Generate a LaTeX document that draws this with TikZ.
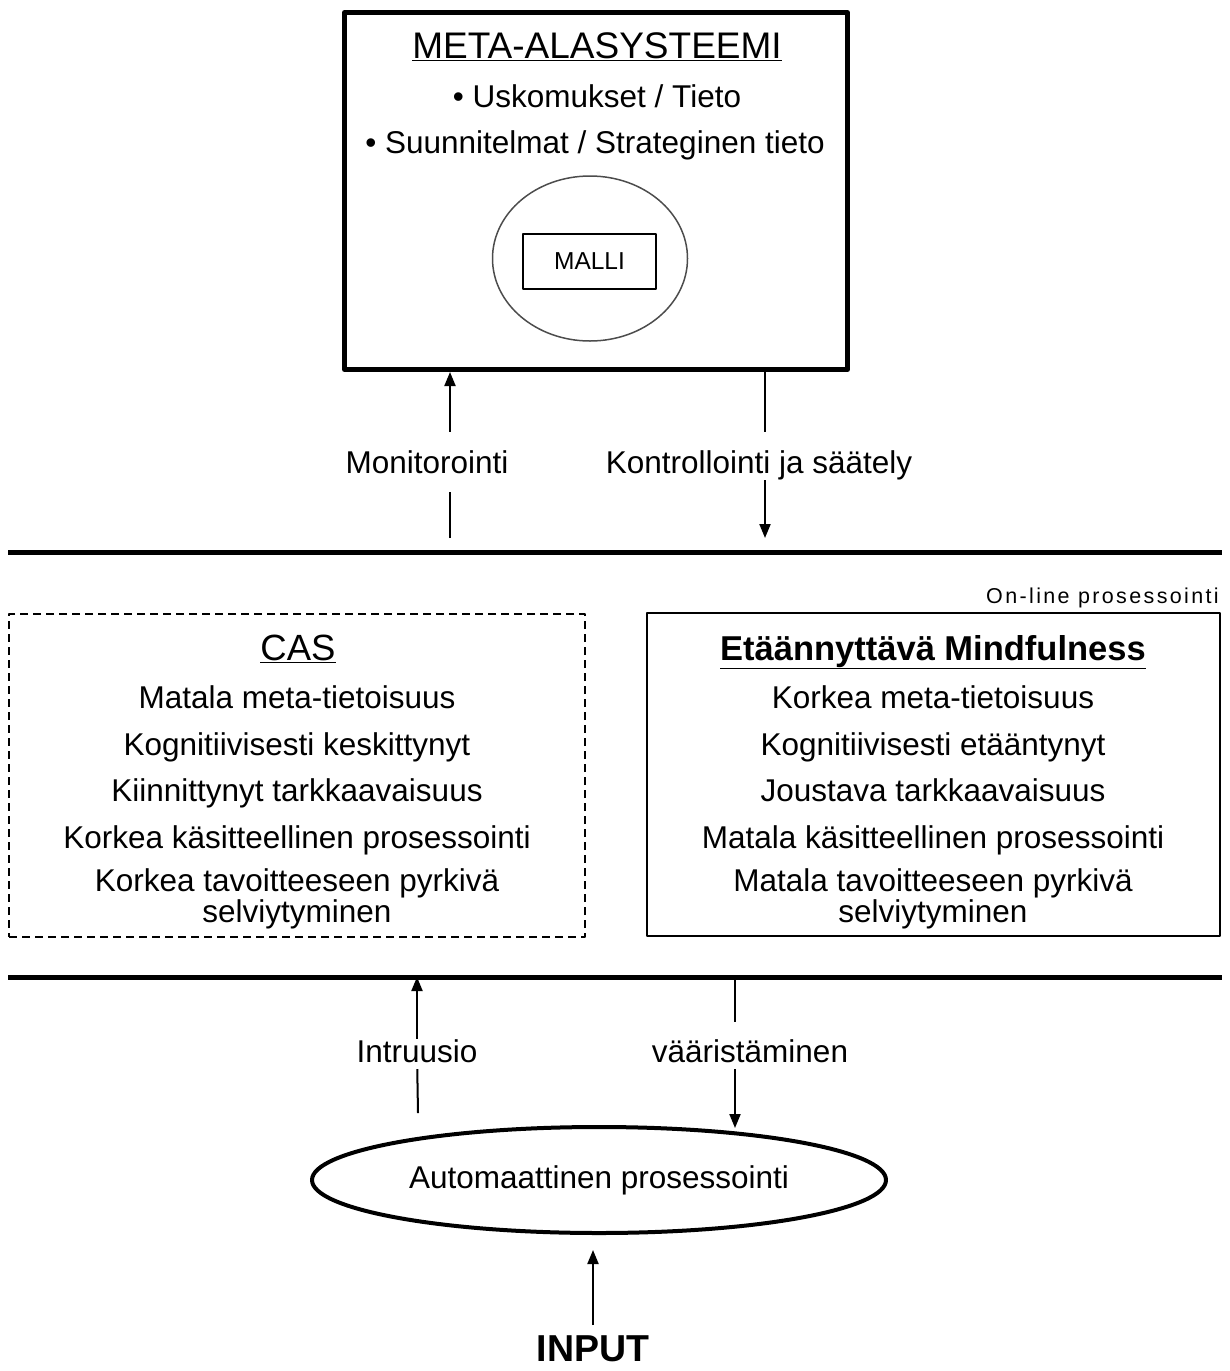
\documentclass[tikz,border=0pt]{standalone}
\usepackage{fontspec}
\setmainfont{Liberation Sans}
\usetikzlibrary{shapes.geometric, arrows.meta}
\newcommand{\txtsize}{\fontsize{31.5}{36}\selectfont}
\newcommand{\hdsize}{\fontsize{37}{42}\selectfont}
\newcommand{\pienisize}{\fontsize{21.5}{24}\selectfont\addfontfeatures{LetterSpace=11}}
\tikzset{
	txt/.style={anchor=base, inner sep=0pt},
	lbl/.style={anchor=base, inner sep=0pt, text height=23pt, text depth=7pt},
	arr/.style={line width=2pt},
	sep/.style={line width=5pt},
	laatikko/.style={draw, line width=2pt, minimum width=#1, minimum height=323pt},
}
\begin{document}
\begin{tikzpicture}[x=1pt, y=-1pt, font=\txtsize, line join=round, >={Stealth[length=14pt, width=11pt, inset=0pt]}]
	\useasboundingbox (0,0) rectangle (1230,1371);
	% meta-alasysteemi
	\node[draw, line width=5pt, minimum width=503pt, minimum height=357pt] (meta) at (596,191) {};
	\node[txt, font=\hdsize] (metahd) at (597,58) {\underline{META-ALASYSTEEMI}};
	\node[txt] (usk) at (597,107) {• Uskomukset / Tieto};
	\node[txt] (suun) at (595,153) {• Suunnitelmat / Strateginen tieto};
	\node[draw, ellipse, line width=1.5pt, draw=black!70, minimum width=195pt, minimum height=165pt] (kehys) at (590,258.5) {};
	\node[draw, line width=2pt, minimum width=133pt, minimum height=55pt, font=\fontsize{24.5}{28}\selectfont] (malli) at (589.5,261.5) {MALLI};
	% viivat
	\coordinate (v1w) at (8,552); \coordinate (v1e) at (1222,552);
	\coordinate (v2w) at (8,977); \coordinate (v2e) at (1222,977);
	\draw[sep] (v1w) -- (v1e);
	\draw[sep] (v2w) -- (v2e);
	% monitorointi / kontrollointi
	\node[lbl] (mon) at (427,473) {Monitorointi};
	\node[lbl] (kon) at (759,473) {Kontrollointi ja säätely};
	\coordinate (monA) at (450,538);
	\coordinate (konA) at (765,538);
	\draw[arr, shorten >=12pt] (monA) -- (monA |- mon.south);
	\draw[arr, ->, shorten <=18pt] (monA |- mon.north) -- (monA |- meta.south);
	\draw[arr, shorten >=18pt] (konA |- meta.south) -- (konA |- kon.north);
	\draw[arr, ->] (konA |- kon.south) -- (konA);
	% on-line prosessointi
	\node[txt, anchor=base east, font=\pienisize] (online) at (1219,603) {On-line prosessointi};
	\node[laatikko=576pt, dash pattern=on 8pt off 5pt] (cas) at (297,775.5) {};
	\node[laatikko=573pt] (mind) at (933.5,774.5) {};
	\node[txt, font=\fontsize{36.5}{42}\selectfont] (cashd) at (298,660) {\underline{CAS}};
	\node[txt, font=\fontsize{34.5}{40}\selectfont\bfseries] (mindhd) at (933,660) {\underline{Etäännyttävä Mindfulness}};
	\foreach \t/\y [count=\i] in {Matala meta-tietoisuus/708, Kognitiivisesti keskittynyt/755, Kiinnittynyt tarkkaavaisuus/801, Korkea käsitteellinen prosessointi/848, Korkea tavoitteeseen pyrkivä/891, selviytyminen/922}
		\node[txt] (cas\i) at (297,\y) {\t};
	\foreach \t/\y [count=\i] in {Korkea meta-tietoisuus/708, Kognitiivisesti etääntynyt/755, Joustava tarkkaavaisuus/801, Matala käsitteellinen prosessointi/848, Matala tavoitteeseen pyrkivä/891, selviytyminen/922}
		\node[txt] (mind\i) at (933,\y) {\t};
	% automaattinen prosessointi
	\node[lbl] (intr) at (417,1062) {Intruusio};
	\node[lbl] (vaar) at (750,1062) {vääristäminen};
	\node[draw, ellipse, line width=4pt, inner sep=0pt, minimum width=574pt, minimum height=106pt] (auto) at (599,1180) {Automaattinen prosessointi};
	\node[txt, font=\fontsize{37.5}{42}\selectfont\bfseries] (input) at (593,1361) {INPUT};
	\coordinate (intB) at (418,1113);
	\coordinate (vaarA) at (735,1128);
	\draw[arr, ->] (intr) -- (intr |- v2w);
	\draw[arr] (intB) -- (intr);
	\draw[arr, shorten >=17pt] (vaarA |- v2w) -- (vaarA |- vaar.north);
	\draw[arr, ->] (vaarA |- vaar.south) -- (vaarA);
	\draw[arr, ->, shorten <=10pt, shorten >=15pt] (input.north) -- (input.north |- auto.south);
\end{tikzpicture}
\end{document}
